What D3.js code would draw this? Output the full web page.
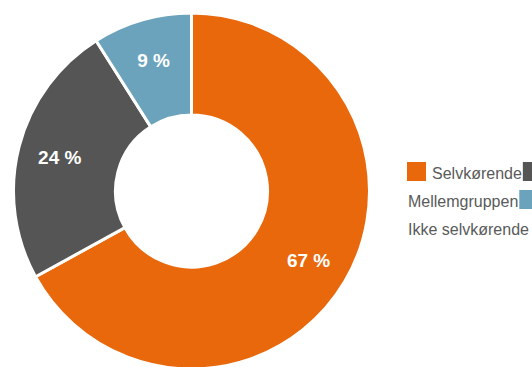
<!DOCTYPE html>
<html>
<head>
<meta charset="utf-8">
<script src="https://cdn.jsdelivr.net/npm/d3@7"></script>
<style>
  body { margin: 0; background: #fff; }
  svg { display: block; font-family: "Liberation Sans", Arial, sans-serif; }
</style>
</head>
<body>
<svg id="chart" width="532" height="367"></svg>
<script>
// data
const categories = ["Selvkørende", "Mellemgruppen", "Ikke selvkørende"];
const values = [67, 24, 9];
const colors = ["#e9680c", "#555555", "#6ba3bd"];

const svg = d3.select("#chart"),
      width = +svg.attr("width"),
      height = +svg.attr("height");

const cx = 191.5, cy = 191,
      outerR = 178, innerR = 76, labelR = 136;

const pie = d3.pie().sort(null).value(d => d.value);
const arc = d3.arc().innerRadius(innerR).outerRadius(outerR);
const labelArc = d3.arc().innerRadius(labelR).outerRadius(labelR);

const data = categories.map((c, i) => ({ name: c, value: values[i], color: colors[i] }));
const arcs = pie(data);

const g = svg.append("g").attr("transform", "translate(" + cx + "," + cy + ")");

g.selectAll("path")
  .data(arcs)
  .enter().append("path")
  .attr("d", arc)
  .attr("fill", d => d.data.color)
  .attr("stroke", "#fff")
  .attr("stroke-width", 3);

g.selectAll("text.lbl")
  .data(arcs)
  .enter().append("text")
  .attr("class", "lbl")
  .attr("transform", d => "translate(" + labelArc.centroid(d) + ")")
  .attr("text-anchor", "middle")
  .attr("dy", "0.35em")
  .attr("fill", "#fff")
  .attr("font-weight", "bold")
  .attr("font-size", 19)
  .text(d => d.data.value + " %");

// legend: inline flow, squares stay on the line, text wraps
const legend = svg.append("g");
const lx0 = 407, lineH = 28, sq = 19;
let lx = lx0, ly = 162;
data.forEach((d, i) => {
  legend.append("rect")
    .attr("x", lx).attr("y", ly)
    .attr("width", sq).attr("height", sq)
    .attr("fill", d.color);
  lx += sq + (i === 0 ? 6 : 0);
  const t = legend.append("text")
    .attr("font-size", 16)
    .attr("fill", "#5a5a5a")
    .text(d.name);
  const w = t.node().getComputedTextLength();
  if (lx + w > width) { lx = lx0 + 1; ly += lineH; }
  t.attr("x", lx).attr("y", ly + 17);
  lx += w + 1;
});
</script>
</body>
</html>
